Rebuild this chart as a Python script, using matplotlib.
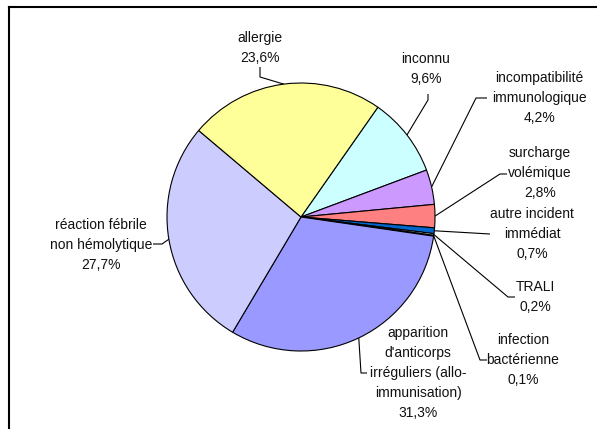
import numpy as np
import matplotlib
matplotlib.use("Agg")
import matplotlib.pyplot as plt
from matplotlib.lines import Line2D

plt.rcParams["font.family"] = ["Liberation Sans", "DejaVu Sans"]

# Effets indésirables receveurs - répartition par diagnostic
labels = [
    "inconnu",
    "incompatibilité\nimmunologique",
    "surcharge\nvolémique",
    "autre incident\nimmédiat",
    "TRALI",
    "infection\nbactérienne",
    "apparition\nd'anticorps\nirréguliers (allo-\nimmunisation)",
    "réaction fébrile\nnon hémolytique",
    "allergie",
]
pct = [9.6, 4.2, 2.8, 0.7, 0.2, 0.1, 31.3, 27.7, 23.6]
colors = ["#CCFFFF", "#CC99FF", "#FF8080", "#0066CC", "#FFFFFF",
          "#E0E0FF", "#9999FF", "#CCCCFF", "#FFFF99"]

W, H = 597, 429
CX, CY, R = 301, 217, 134  # pie centre and radius, pixels


def px(x, y):
    """pixel position -> data coords (pie of radius 1 at origin)"""
    return (x - CX) / R, (CY - y) / R


# label block centre and leader path (label side), in pixels
label_pos = [(426, 69), (539, 98), (540, 173), (532, 234), (535, 297),
             (523, 360), (418, 373), (101, 245), (260, 48)]
leader_pts = [
    [(428, 100), (428, 94)],
    [(476, 98), (487, 98)],
    [(500, 174), (507, 174)],
    [(490, 234)],
    [(508, 297), (515, 297)],
    [(480, 360), (487, 360)],
    [(361, 373), (367, 373)],
    [(162, 244), (153, 244)],
    [(260, 77), (260, 67)],
]

fig = plt.figure(figsize=(W / 100, H / 100), dpi=100)
ax = fig.add_axes([0, 0, 1, 1])
x0, y1 = px(0, 0)
x1, y0 = px(W, H)

wedges, _ = ax.pie(pct, colors=colors, startangle=55, counterclock=False,
                   radius=1.0, center=(0, 0), frame=True,
                   wedgeprops=dict(edgecolor="black", linewidth=0.8))
ax.set_xlim(x0, x1)
ax.set_ylim(y0, y1)
ax.set_aspect("auto")
ax.axis("off")

for w, lab, p, pos, pts in zip(wedges, labels, pct, label_pos, leader_pts):
    mid = np.deg2rad((w.theta1 + w.theta2) / 2)
    xs = [np.cos(mid)]
    ys = [np.sin(mid)]
    for q in pts:
        qx, qy = px(*q)
        xs.append(qx)
        ys.append(qy)
    ax.plot(xs, ys, color="black", linewidth=0.8, solid_capstyle="butt")
    tx, ty = px(*pos)
    txt = lab + "\n" + f"{p:.1f}%".replace(".", ",")
    ax.text(tx, ty, txt, ha="center", va="center", fontsize=10,
            linespacing=1.56, color="#111111")

# chart area border (left and top edges)
fig.add_artist(Line2D([9 / W, 9 / W], [0, 1 - 7 / H], transform=fig.transFigure,
                      color="black", linewidth=1.5))
fig.add_artist(Line2D([9 / W, 1], [1 - 7 / H, 1 - 7 / H], transform=fig.transFigure,
                      color="black", linewidth=1.5))

fig.savefig("out.png", dpi=100)
